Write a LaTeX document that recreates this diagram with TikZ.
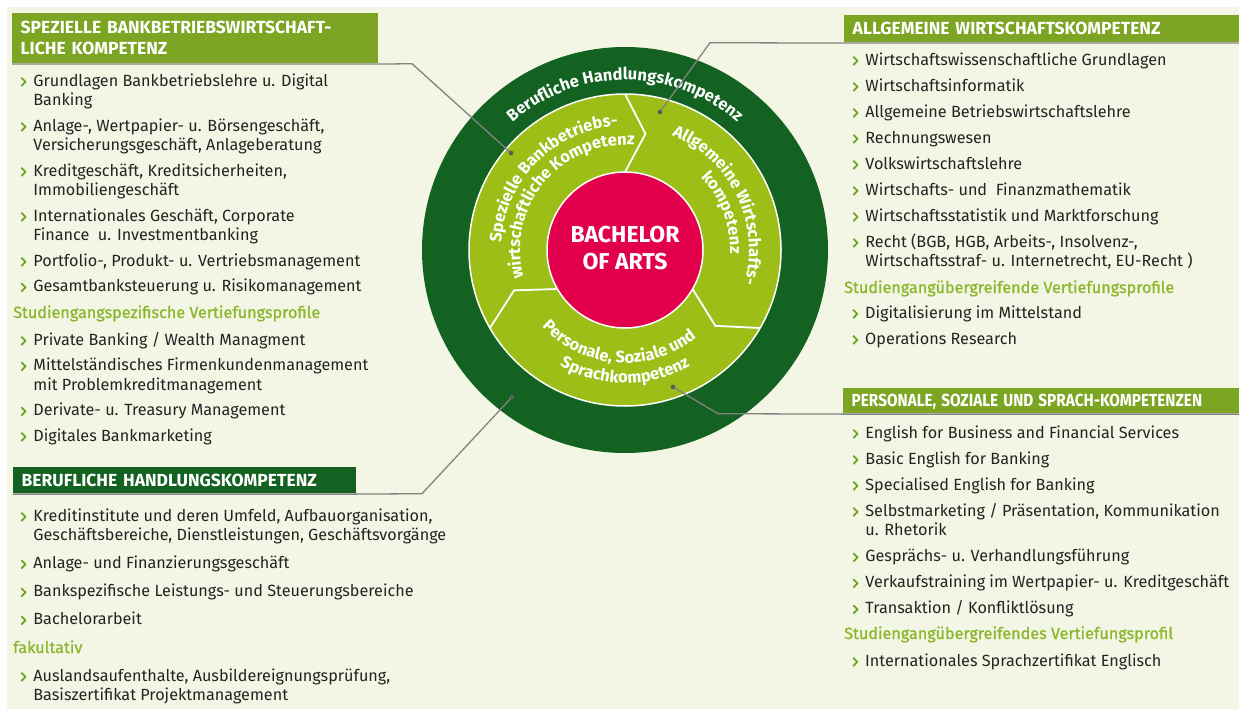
\documentclass[tikz,border=0pt]{standalone}
\usepackage{fontspec}
\usepackage{graphicx}
\setmainfont{Fira Sans}
\usetikzlibrary{matrix,positioning,calc,decorations.text}

\definecolor{cream}{RGB}{243,246,229}
\definecolor{darkgreen}{RGB}{19,98,33}
\definecolor{ringgreen}{RGB}{157,190,22}
\definecolor{headgreen}{RGB}{123,165,34}
\definecolor{subgreen}{RGB}{140,182,44}
\definecolor{bulletgreen}{RGB}{112,162,30}
\definecolor{bared}{RGB}{226,0,77}
\definecolor{txt}{RGB}{35,35,35}
\definecolor{linegray}{RGB}{130,130,130}
\definecolor{dotgray}{RGB}{90,90,90}

\newcommand\listfont{\fontsize{16.2}{19.5}\selectfont}
\newcommand\subfont{\fontsize{16.2}{19.5}\selectfont\addfontfeature{FakeBold=0.8}}
\newcommand\headfont{\bfseries\fontsize{17.5}{21}\selectfont}
\newcommand\ringfont{\bfseries\fontsize{16.5}{16.5}\selectfont}
\newcommand\bul{\mbox{}}

\begin{document}
\begin{tikzpicture}[x=1pt,y=1pt]
    \tikzset{head/.style={
        fill=#1, text=white, font=\headfont, anchor=north west,
        inner xsep=8.5pt, inner ysep=0pt, align=left
      },
      onehead/.style={head=#1, text height=12pt, text depth=0pt},
      chev/.style={minimum width=6pt,
        path picture={\draw[bulletgreen, line width=1.8pt]
          ([shift={(1pt,6.6pt)}]path picture bounding box.south west)
          -- ++(4pt,4.2pt) -- ++(-4pt,4.2pt);}
      },
      itemlist/.style={
        matrix of nodes, anchor=north west, inner sep=0pt, column sep=7pt,
        nodes={font=\listfont, text=txt, inner sep=0pt, text height=13pt, text depth=6.5pt, anchor=base west},
        column 1/.style={nodes={chev}}
      },
      subhead/.style={font=\subfont, text=subgreen, anchor=base west, inner sep=0pt},
      conn/.style={draw=linegray, line width=1.3pt},
      dot/.style={circle, fill=dotgray, inner sep=0pt, minimum size=4.5pt},
      divider/.style={draw=white, line width=1.8pt},
      ringtext/.style={decorate, decoration={text along path, text align=center, text color=white, text={|\ringfont|#1}}}
    }

    \useasboundingbox (0,0) rectangle (1239,-709);
    \fill[white] (0,0) rectangle (1239,-709);
    \fill[cream] (7,-7) rectangle (1239,-709);

    % circle
    \coordinate (ctr) at (625,-250);
    \fill[darkgreen] (ctr) circle[radius=203];
    \filldraw[fill=ringgreen, draw=white, line width=1.5pt] (ctr) circle[radius=156];
    \foreach \a in {90,-30,210}
      \draw[divider] ([shift={(\a:78)}]ctr) -- ([shift={(\a-10:118)}]ctr) -- ([shift={(\a:156)}]ctr);
    \filldraw[fill=bared, draw=white, line width=1.5pt] (ctr) circle[radius=78];
    \node[font=\bfseries\fontsize{23}{27}\selectfont, text=white, align=center] (ba) at (625,-248.5) {BACHELOR\\OF ARTS};

    \path[ringtext={Berufliche Handlungskompetenz}] ([shift={(160:170)}]ctr) arc[start angle=160, end angle=20, radius=170];
    \path[ringtext={Spezielle Bankbetriebs-}] ([shift={(210:124)}]ctr) arc[start angle=210, end angle=60, radius=124];
    \path[ringtext={wirtschaftliche Kompetenz}] ([shift={(225:105)}]ctr) arc[start angle=225, end angle=55, radius=105];
    \path[ringtext={Allgemeine Wirtschafts-}] ([shift={(101:124)}]ctr) arc[start angle=101, end angle=-49, radius=124];
    \path[ringtext={kompetenz}] ([shift={(81:105)}]ctr) arc[start angle=81, end angle=-39, radius=105];
    \path[ringtext={Personale, Soziale und}] ([shift={(186:113)}]ctr) arc[start angle=186, end angle=346, radius=113];
    \path[ringtext={Sprachkompetenz}] ([shift={(200:133)}]ctr) arc[start angle=200, end angle=340, radius=133];

    % headers
    \node[head=headgreen, minimum width=366pt, minimum height=50pt, text width=349pt] (spezhead) at (12,-13)
      {SPEZIELLE BANKBETRIEBSWIRTSCHAFT-\\LICHE KOMPETENZ};
    \node[onehead=darkgreen, minimum width=343pt, minimum height=26pt, text width=326pt] (berufhead) at (13,-467)
      {BERUFLICHE HANDLUNGSKOMPETENZ};
    \node[onehead=headgreen, minimum width=395pt, minimum height=27pt, text width=378pt] (allghead) at (844,-15)
      {ALLGEMEINE WIRTSCHAFTSKOMPETENZ};
    \node[onehead=headgreen, minimum width=396pt, minimum height=25pt, text width=379pt] (perhead) at (843,-388)
      {\scalebox{0.875}[1]{PERSONALE, SOZIALE UND SPRACH-KOMPETENZEN}};

    % lists
    \matrix[itemlist] (spezlist) at (20,-73)
    {
      \bul & Grundlagen Bankbetriebslehre u. Digital \\
           & Banking \\[6pt]
      \bul & Anlage-, Wertpapier- u. Börsengeschäft, \\
           & Versicherungsgeschäft, Anlageberatung \\[6pt]
      \bul & Kreditgeschäft, Kreditsicherheiten, \\
           & Immobiliengeschäft \\[6pt]
      \bul & Internationales Geschäft, Corporate \\
           & Finance~ u. Investmentbanking \\[6pt]
      \bul & Portfolio-, Produkt- u. Vertriebsmanagement \\[6pt]
      \bul & Gesamtbanksteuerung u. Risikomanagement \\
    };
    \node[subhead] (spezsub) at (13,-318) {Studiengangspezifische Vertiefungsprofile};
    \matrix[itemlist] (spezprof) at (20,-332)
    {
      \bul & Private Banking / Wealth Managment \\[6pt]
      \bul & Mittelständisches Firmenkundenmanagement \\
           & mit Problemkreditmanagement \\[6pt]
      \bul & Derivate- u. Treasury Management \\[6pt]
      \bul & Digitales Bankmarketing \\
    };

    \matrix[itemlist] (beruflist) at (20,-508)
    {
      \bul & Kreditinstitute und deren Umfeld, Aufbauorganisation, \\
           & Geschäftsbereiche, Dienstleistungen, Geschäftsvorgänge \\[8.5pt]
      \bul & Anlage- und Finanzierungsgeschäft \\[8.5pt]
      \bul & Bankspezifische Leistungs- und Steuerungsbereiche \\[8.5pt]
      \bul & Bachelorarbeit \\
    };
    \node[subhead] (berufsub) at (13,-653) {fakultativ};
    \matrix[itemlist] (berufextra) at (20,-668)
    {
      \bul & Auslandsaufenthalte, Ausbildereignungsprüfung, \\
           & Basiszertifikat Projektmanagement \\
    };

    \matrix[itemlist] (allglist) at (852,-52)
    {
      \bul & Wirtschaftswissenschaftliche Grundlagen \\[6.5pt]
      \bul & Wirtschaftsinformatik \\[6.5pt]
      \bul & Allgemeine Betriebswirtschaftslehre \\[6.5pt]
      \bul & Rechnungswesen \\[6.5pt]
      \bul & Volkswirtschaftslehre \\[6.5pt]
      \bul & Wirtschafts- und~ Finanzmathematik \\[6.5pt]
      \bul & Wirtschaftsstatistik und Marktforschung \\[6.5pt]
      \bul & Recht (BGB, HGB, Arbeits-, Insolvenz-, \\
           & Wirtschaftsstraf- u. Internetrecht, EU-Recht ) \\
    };
    \node[subhead] (allgsub) at (844,-293) {Studiengangübergreifende Vertiefungsprofile};
    \matrix[itemlist] (allgprof) at (852,-305)
    {
      \bul & Digitalisierung im Mittelstand \\[6.5pt]
      \bul & Operations Research \\
    };

    \matrix[itemlist] (perlist) at (852,-425)
    {
      \bul & English for Business and Financial Services \\[6.5pt]
      \bul & Basic English for Banking \\[6.5pt]
      \bul & Specialised English for Banking \\[6.5pt]
      \bul & Selbstmarketing / Präsentation, Kommunikation \\
           & u. Rhetorik \\[6.5pt]
      \bul & Gesprächs- u. Verhandlungsführung \\[6.5pt]
      \bul & Verkaufstraining im Wertpapier- u. Kreditgeschäft \\[6.5pt]
      \bul & Transaktion / Konfliktlösung \\
    };
    \node[subhead] (persub) at (844,-639) {Studiengangübergreifendes Vertiefungsprofil};
    \matrix[itemlist] (perprof) at (852,-653)
    {
      \bul & Internationales Sprachzertifikat Englisch \\
    };

    % connectors
    \node[dot] (spezdot) at (511,-153) {};
    \node[dot] (allgdot) at (660,-112) {};
    \node[dot] (perdot) at (673,-387) {};
    \node[dot] (berufdot) at (512,-397) {};
    \coordinate (spezbend) at (412,-63.7);
    \coordinate (allgbend) at (710,-42.7);
    \coordinate (perbend) at (718,-413.7);
    \coordinate (berufbend) at (422,-493.7);

    \draw[conn] ([yshift=-0.7pt]spezhead.south west) -- ([yshift=-0.7pt]spezhead.south east) -- (spezbend) -- (spezdot.center);
    \draw[conn] ([yshift=-0.7pt]allghead.south east) -- ([yshift=-0.7pt]allghead.south west) -- (allgbend) -- (allgdot.center);
    \draw[conn] ([yshift=-0.7pt]perhead.south east) -- ([yshift=-0.7pt]perhead.south west) -- (perbend) -- (perdot.center);
    \draw[conn] ([yshift=-0.7pt]berufhead.south west) -- ([yshift=-0.7pt]berufhead.south east) -- (berufbend) -- (berufdot.center);
    \node[dot] at (spezdot) {};
    \node[dot] at (allgdot) {};
    \node[dot] at (perdot) {};
    \node[dot] at (berufdot) {};
\end{tikzpicture}
\end{document}
